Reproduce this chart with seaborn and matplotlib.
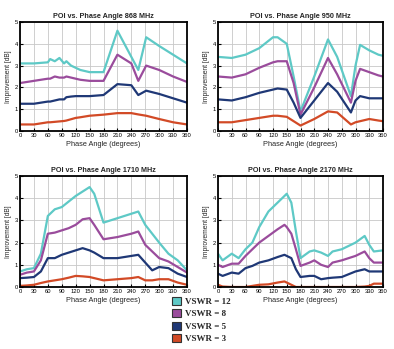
import numpy as np
import pandas as pd
import matplotlib
matplotlib.use("Agg")
import matplotlib.pyplot as plt
import seaborn as sns
from matplotlib.patches import Patch

series_names = ["VSWR = 12", "VSWR = 8", "VSWR = 5", "VSWR = 3"]
colors = ["#5ec9c6", "#9a4c9c", "#1f3876", "#d24a26"]
titles = ["POI vs. Phase Angle 868 MHz", "POI vs. Phase Angle 950 MHz",
          "POI vs. Phase Angle 1710 MHz", "POI vs. Phase Angle 2170 MHz"]
xticks = [0, 30, 60, 90, 120, 150, 180, 210, 240, 270, 300, 330, 360]
yticks = [0, 1, 2, 3, 4, 5]

# ---- 868 MHz ----
p1_x = [0, 30, 60, 65, 75, 85, 95, 100, 110, 120, 130, 150, 180, 210, 240, 255, 272, 300, 330, 360]
p1_12 = [3.1, 3.1, 3.15, 3.3, 3.2, 3.35, 3.1, 3.2, 3.0, 2.9, 2.8, 2.7, 2.7, 4.6, 3.4, 2.8, 4.3, 3.9, 3.5, 3.1]
p1_8 = [2.2, 2.3, 2.4, 2.4, 2.5, 2.45, 2.45, 2.5, 2.45, 2.4, 2.35, 2.3, 2.3, 3.5, 3.1, 2.3, 3.0, 2.8, 2.5, 2.25]
p1_5 = [1.25, 1.25, 1.35, 1.35, 1.4, 1.45, 1.45, 1.55, 1.58, 1.6, 1.6, 1.6, 1.65, 2.15, 2.1, 1.65, 1.85, 1.7, 1.5, 1.3]
p1_3 = [0.3, 0.3, 0.4, 0.4, 0.42, 0.44, 0.46, 0.48, 0.54, 0.6, 0.63, 0.7, 0.75, 0.82, 0.82, 0.76, 0.7, 0.55, 0.4, 0.3]

# ---- 950 MHz ----
p2_x = [0, 30, 60, 90, 120, 130, 150, 165, 180, 210, 240, 260, 290, 300, 310, 330, 350, 360]
p2_12 = [3.4, 3.35, 3.5, 3.8, 4.3, 4.3, 4.0, 2.5, 0.9, 2.5, 4.2, 3.4, 1.6, 3.0, 3.95, 3.7, 3.5, 3.45]
p2_8 = [2.5, 2.45, 2.6, 2.9, 3.15, 3.2, 3.2, 2.2, 0.75, 2.0, 3.35, 2.6, 1.3, 2.3, 2.85, 2.7, 2.55, 2.5]
p2_5 = [1.45, 1.4, 1.55, 1.75, 1.9, 1.95, 1.9, 1.3, 0.6, 1.4, 2.2, 1.8, 0.85, 1.4, 1.6, 1.5, 1.5, 1.5]
p2_3 = [0.4, 0.4, 0.5, 0.6, 0.7, 0.7, 0.65, 0.45, 0.25, 0.55, 0.9, 0.85, 0.3, 0.4, 0.45, 0.55, 0.48, 0.45]

# ---- 1710 MHz ----
p3_x = [0, 15, 30, 45, 60, 75, 90, 105, 120, 135, 150, 160, 180, 210, 240, 255, 270, 285, 300, 320, 340, 360]
p3_12 = [0.7, 0.8, 0.85, 1.5, 3.2, 3.5, 3.6, 3.85, 4.1, 4.3, 4.5, 4.2, 2.9, 3.1, 3.3, 3.4, 2.8, 2.4, 2.0, 1.5, 1.2, 0.75]
p3_8 = [0.55, 0.65, 0.7, 1.2, 2.4, 2.45, 2.55, 2.65, 2.8, 3.05, 3.1, 2.8, 2.15, 2.25, 2.4, 2.5, 1.9, 1.6, 1.3, 1.15, 0.9, 0.65]
p3_5 = [0.4, 0.42, 0.45, 0.7, 1.3, 1.3, 1.45, 1.55, 1.65, 1.75, 1.65, 1.55, 1.3, 1.3, 1.4, 1.45, 1.1, 0.75, 0.9, 0.85, 0.6, 0.45]
p3_3 = [0.05, 0.07, 0.1, 0.18, 0.25, 0.3, 0.35, 0.42, 0.5, 0.48, 0.45, 0.4, 0.3, 0.35, 0.4, 0.45, 0.3, 0.3, 0.35, 0.35, 0.2, 0.1]

# ---- 2170 MHz ----
p4_x = [0, 10, 30, 45, 60, 75, 90, 110, 130, 145, 150, 160, 170, 180, 200, 210, 225, 240, 250, 270, 300, 320, 330, 340, 360]
p4_12 = [1.5, 1.2, 1.5, 1.3, 1.7, 2.0, 2.7, 3.4, 3.8, 4.1, 4.2, 3.8, 2.5, 1.3, 1.6, 1.65, 1.55, 1.4, 1.6, 1.7, 2.0, 2.3, 1.9, 1.6, 1.65]
p4_8 = [1.0, 0.9, 1.05, 1.05, 1.4, 1.7, 2.0, 2.3, 2.6, 2.8, 2.7, 2.4, 1.7, 0.95, 1.1, 1.2, 1.0, 0.9, 1.1, 1.2, 1.4, 1.6, 1.3, 1.1, 1.1]
p4_5 = [0.6, 0.5, 0.65, 0.6, 0.85, 0.95, 1.1, 1.2, 1.35, 1.45, 1.4, 1.3, 0.8, 0.45, 0.5, 0.5, 0.35, 0.4, 0.42, 0.45, 0.7, 0.8, 0.7, 0.7, 0.7]
p4_3 = [0.1, 0.02, 0.0, 0.0, 0.0, 0.05, 0.1, 0.12, 0.2, 0.25, 0.2, 0.1, 0.0, 0.0, 0.0, 0.0, 0.0, 0.0, 0.0, 0.0, 0.0, 0.02, 0.05, 0.15, 0.15]

panels = [
    (p1_x, [p1_12, p1_8, p1_5, p1_3]),
    (p2_x, [p2_12, p2_8, p2_5, p2_3]),
    (p3_x, [p3_12, p3_8, p3_5, p3_3]),
    (p4_x, [p4_12, p4_8, p4_5, p4_3]),
]

sns.set_theme(style="white")
plt.rcParams['font.family'] = ['Liberation Sans', 'DejaVu Sans']

fig = plt.figure(figsize=(3.94, 3.49), dpi=100)
W, H = 394, 349
boxes = [(20, 22, 187, 131), (218, 22, 383, 131), (20, 176, 187, 287), (218, 176, 383, 287)]

palette = dict(zip(series_names, colors))
for (x0, y0, x1, y1), (xs, ys_list), title in zip(boxes, panels, titles):
    ax = fig.add_axes([x0 / W, 1 - y1 / H, (x1 - x0) / W, (y1 - y0) / H])
    rows = []
    for name, ys in zip(series_names, ys_list):
        for xv, yv in zip(xs, ys):
            rows.append({"angle": xv, "imp": yv, "series": name})
    df = pd.DataFrame(rows)
    sns.lineplot(data=df, x="angle", y="imp", hue="series", palette=palette,
                 hue_order=series_names, linewidth=1.6, legend=False, ax=ax)
    ax.set_xlim(0, 360)
    ax.set_ylim(0, 5)
    ax.set_xticks(xticks)
    ax.set_yticks(yticks)
    ax.set_xticklabels([str(t) for t in xticks], fontsize=4.2)
    ax.set_yticklabels([str(t) for t in yticks], fontsize=4.2)
    ax.grid(True, color="#c8c8c8", linewidth=0.6)
    ax.set_axisbelow(True)
    for s in ax.spines.values():
        s.set_color("black")
        s.set_linewidth(1.3)
    ax.tick_params(axis="both", direction="in", length=2.5, width=0.8, pad=1.5,
                   colors="black", bottom=True, left=True)
    ax.set_title(title, fontsize=5.2, pad=3, fontweight="bold")
    ax.set_xlabel("Phase Angle (degrees)", fontsize=5.3, labelpad=2)
    ax.set_ylabel("Improvement [dB]", fontsize=4.8, labelpad=2)

handles = [Patch(facecolor=c, edgecolor="#333333", linewidth=0.8) for c in colors]
fig.legend(handles, series_names, loc="upper left", bbox_to_anchor=(172 / W, 1 - 297 / H),
           frameon=False, prop={"family": "Liberation Serif", "weight": "bold", "size": 6.5},
           handlelength=1.0, handleheight=1.0, handletextpad=0.4, labelspacing=0.35,
           borderpad=0.0, borderaxespad=0.0)

fig.savefig("out.png", dpi=100)
